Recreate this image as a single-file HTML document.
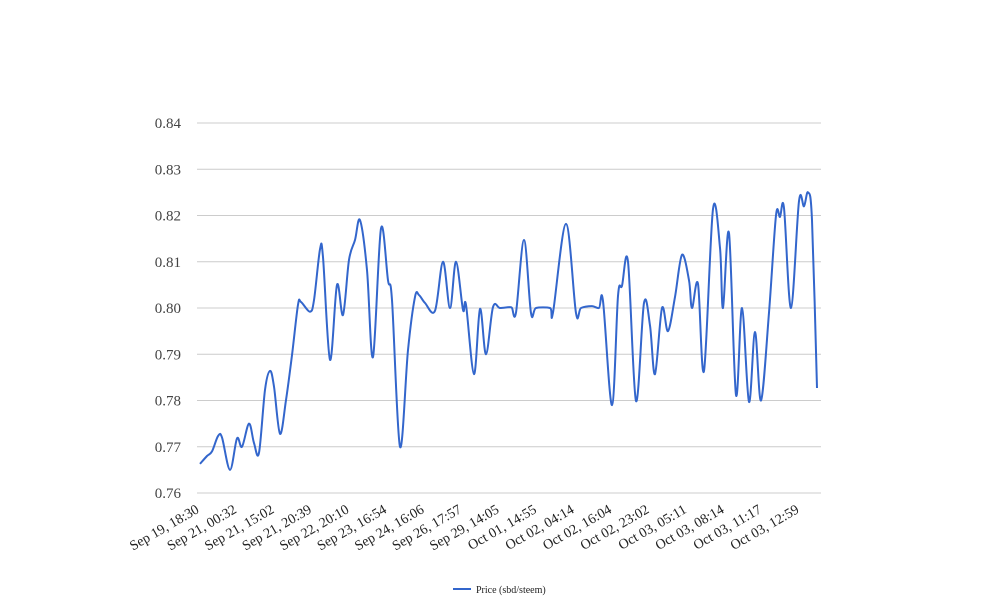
<!DOCTYPE html>
<html><head><meta charset="utf-8"><style>
body{margin:0;background:#fff;}
svg{display:block;font-family:"Liberation Serif","DejaVu Serif",serif;}
</style></head><body>
<svg id="chart" width="1008" height="616" viewBox="0 0 1008 616">
<g id="grid"></g><g id="ylab"></g><g id="xlab"></g><g id="series"></g>
<g>
<line x1="453" y1="589" x2="471" y2="589" stroke="#3366cc" stroke-width="2"/>
<text x="476" y="593" font-size="10" fill="#222">Price (sbd/steem)</text>
</g>
</svg>
<script>
const yTicks=[0.76,0.77,0.78,0.79,0.80,0.81,0.82,0.83,0.84];
const xLabels=["Sep 19, 18:30","Sep 21, 00:32","Sep 21, 15:02","Sep 21, 20:39","Sep 22, 20:10","Sep 23, 16:54","Sep 24, 16:06","Sep 26, 17:57","Sep 29, 14:05","Oct 01, 14:55","Oct 02, 04:14","Oct 02, 16:04","Oct 02, 23:02","Oct 03, 05:11","Oct 03, 08:14","Oct 03, 11:17","Oct 03, 12:59"];
const sampleIdx=[0,7,12,18,22,30,37,42,49,54,59,65,70,74,80,86,92,98,101,110,114,120,123,130,137,143,149,155,160,167,173,181,188,192,200,208,215,219,225,235,243,250,256,263,266,274,280,286,293,300,310,312,316,324,331,336,350,353,366,376,381,392,399,403,412,418,422,428,436,444,450,455,462,468,475,482,489,492,498,504,513,520,523,529,536,542,549,555,561,569,576,580,584,591,599,604,608,612,617];
const prices=[0.7663,0.768,0.769,0.7723,0.772,0.765,0.7718,0.770,0.775,0.7708,0.7687,0.7823,0.7864,0.783,0.7728,0.7801,0.7898,0.8007,0.8013,0.7992,0.8017,0.8127,0.811,0.7888,0.805,0.7985,0.8104,0.8147,0.819,0.8082,0.7894,0.8172,0.806,0.8017,0.770,0.7909,0.8024,0.8028,0.8011,0.7994,0.81,0.800,0.81,0.7996,0.8007,0.7857,0.7998,0.790,0.8002,0.800,0.8002,0.800,0.799,0.8147,0.7989,0.800,0.800,0.799,0.8182,0.7989,0.800,0.8004,0.800,0.8015,0.779,0.8026,0.8048,0.810,0.7799,0.8011,0.7962,0.7857,0.800,0.795,0.8024,0.8115,0.806,0.800,0.8052,0.7864,0.8214,0.8130,0.800,0.8162,0.7812,0.800,0.7797,0.7948,0.780,0.799,0.820,0.8197,0.8216,0.800,0.8231,0.8220,0.825,0.819,0.7827];
const NS="http://www.w3.org/2000/svg";
const X0=200,X1=817,Y0=493,Y1=123;
const xs=i=>X0+(i/617)*(X1-X0);
const ys=v=>Y0-(v-0.76)/(0.84-0.76)*(Y0-Y1);
const grid=document.getElementById('grid'),ylab=document.getElementById('ylab'),xlab=document.getElementById('xlab');
yTicks.forEach(t=>{
 const l=document.createElementNS(NS,'line');
 
 
 l.setAttribute('x1',197);l.setAttribute('x2',821);l.setAttribute('y1',ys(t));l.setAttribute('y2',ys(t));
 l.setAttribute('stroke','#cccccc');l.setAttribute('stroke-width','1');grid.appendChild(l);
 const tx=document.createElementNS(NS,'text');
 
 
 tx.setAttribute('x',181);tx.setAttribute('y',ys(t)+5);tx.setAttribute('text-anchor','end');
 tx.setAttribute('font-size','15');tx.setAttribute('fill','#444');tx.textContent=t.toFixed(2);ylab.appendChild(tx);
});
xLabels.forEach((s,i)=>{
 const x=200+i*37.5;
 const tx=document.createElementNS(NS,'text');
 
 
 tx.setAttribute('text-anchor','end');tx.setAttribute('font-size','14');tx.setAttribute('fill','#222');
 tx.setAttribute('transform','translate('+x+',512) rotate(-30)');tx.textContent=s;xlab.appendChild(tx);
});
const pts=sampleIdx.map((s,i)=>[xs(s),ys(prices[i])]);
let d='M'+pts[0][0]+','+pts[0][1];
for(let i=0;i<pts.length-1;i++){
 const p0=pts[Math.max(0,i-1)],p1=pts[i],p2=pts[i+1],p3=pts[Math.min(pts.length-1,i+2)];
 const c1=[p1[0]+(p2[0]-p0[0])/6,p1[1]+(p2[1]-p0[1])/6],c2=[p2[0]-(p3[0]-p1[0])/6,p2[1]-(p3[1]-p1[1])/6];
 d+=' C'+c1[0]+','+c1[1]+' '+c2[0]+','+c2[1]+' '+p2[0]+','+p2[1];
}
const path=document.createElementNS(NS,'path');


path.setAttribute('d',d);path.setAttribute('fill','none');path.setAttribute('stroke','#3366cc');path.setAttribute('stroke-width','2');
document.getElementById('series').appendChild(path);
</script>
</body></html>
